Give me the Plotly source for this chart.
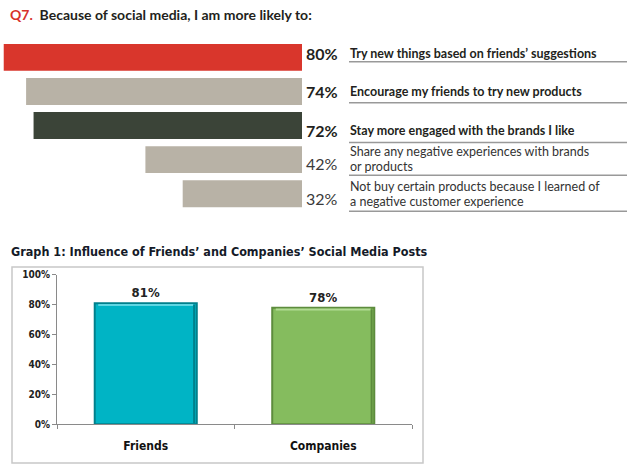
import plotly.graph_objects as go

# ---------------- data ----------------
q7_items = [
    "Try new things based on friends’ suggestions",
    "Encourage my friends to try new products",
    "Stay more engaged with the brands I like",
    "Share any negative experiences with brands<br>or products",
    "Not buy certain products because I learned of<br>a negative customer experience",
]
q7_values = [80, 74, 72, 42, 32]
q7_colors = ["#d9362c", "#b8b2a6", "#3b4438", "#b8b2a6", "#b8b2a6"]
q7_bold = [True, True, True, False, False]

g1_categories = ["Friends", "Companies"]
g1_values = [81, 78]
g1_colors = ["#00b4c5", "#85bc5e"]
g1_edges = ["#00808c", "#5d8c3d"]
g1_lights = ["#5fd6e2", "#b2db93"]
g1_ticks = [0, 20, 40, 60, 80, 100]

W, H = 641, 474
NARROW = "Lato, Liberation Sans Narrow, DejaVu Sans Condensed, sans-serif"
COND = "DejaVu Sans Condensed, DejaVu Sans, sans-serif"
BAR_W = 0.575
VS = 0.979  # vertical compensation


def py(px):
    return 1 - (px / VS - 4) / H


def px_(x):
    return x / W


q7_cats = [f"r{i}" for i in range(len(q7_values))]

fig = go.Figure()

# ---------- top horizontal bars ----------
fig.add_trace(go.Bar(
    x=q7_values, y=q7_cats, orientation="h",
    marker=dict(color=q7_colors, line=dict(width=0)),
    xaxis="x", yaxis="y", showlegend=False, hoverinfo="skip",
))

# ---------- bottom vertical bars ----------
fig.add_trace(go.Bar(
    x=g1_categories, y=g1_values, width=BAR_W,
    marker=dict(color=g1_colors, line=dict(color=g1_edges, width=2)),
    text=[f"<b>{v}%</b>" for v in g1_values], textposition="outside",
    textfont=dict(family=COND, size=13, color="#222222"),
    cliponaxis=False,
    xaxis="x2", yaxis="y2", showlegend=False, hoverinfo="skip",
))

fig.update_layout(
    width=W, height=H, margin=dict(l=0, r=0, t=0, b=0),
    paper_bgcolor="white", plot_bgcolor="rgba(0,0,0,0)",
    bargap=0.21,
    xaxis=dict(domain=[0, px_(302)], range=[81, 0], visible=False, fixedrange=True),
    yaxis=dict(domain=[py(209.6), py(38.4)], type="category",
               categoryorder="array", categoryarray=q7_cats,
               autorange="reversed", visible=False, anchor="x"),
    xaxis2=dict(domain=[px_(57), px_(412)], anchor="y2", type="category",
                showline=True, linecolor="#8a8a8a", linewidth=1,
                ticks="outside", ticklen=4, tickcolor="#8a8a8a",
                tickson="boundaries", ticklabelstandoff=10,
                tickfont=dict(family=COND, size=12, color="#111111", weight="bold"),
                showgrid=False),
    yaxis2=dict(domain=[py(424), py(274)], anchor="x2", range=[0, 100],
                tickvals=g1_ticks, ticktext=[f"{t}%" for t in g1_ticks],
                showline=True, linecolor="#8a8a8a", linewidth=1,
                ticks="outside", ticklen=4, tickcolor="#8a8a8a",
                showgrid=False, zeroline=False,
                tickfont=dict(family=COND, size=10, color="#222222", weight="bold")),
)

annotations = []
# top title
annotations.append(dict(
    x=px_(8), y=py(12), xref="paper", yref="paper", xanchor="left", yanchor="middle",
    text="<b><span style='color:#d7322b'>Q7.</span>  Because of social media, I am more likely to:</b>",
    showarrow=False, font=dict(family=NARROW, size=14, color="#231f20"),
))

# per-row vertical offsets (px, positive = up) for value labels and description lines
val_shift = [4, 0, -5, -3.5, -4.5]
desc_shift = [[4], [0], [-5], [7.8, -7.3], [7.0, -8.2]]
sep_lines = [60, 101, 141, 174, 210]

for i, (cat, v, item, b) in enumerate(zip(q7_cats, q7_values, q7_items, q7_bold)):
    vt = f"<b>{v}%</b>" if b else f"{v}%"
    annotations.append(dict(
        x=px_(304), y=cat, xref="paper", yref="y", xanchor="left", yanchor="middle",
        yshift=val_shift[i], text=vt, showarrow=False,
        font=dict(family=NARROW, size=16, color="#231f20" if b else "#3a3a3a"),
    ))
    for line, ys in zip(item.split("<br>"), desc_shift[i]):
        lt = f"<b>{line}</b>" if b else line
        annotations.append(dict(
            x=px_(348), y=cat, xref="paper", yref="y", xanchor="left", yanchor="middle",
            yshift=ys, text=lt, showarrow=False, align="left",
            font=dict(family=NARROW, size=12.5, color="#231f20" if b else "#333333"),
        ))

# bottom title
annotations.append(dict(
    x=px_(9), y=py(251), xref="paper", yref="paper", xanchor="left", yanchor="middle",
    text="<b>Graph 1: Influence of Friends’ and Companies’ Social Media Posts</b>",
    showarrow=False, font=dict(family=COND, size=12.5, color="#141a28"),
))

shapes = []
for yl in sep_lines:
    shapes.append(dict(type="line", xref="paper", yref="paper",
                       x0=px_(349), x1=px_(627), y0=py(yl), y1=py(yl),
                       line=dict(color="#999999", width=1.5)))
# frame of lower chart
shapes.append(dict(type="rect", xref="paper", yref="paper",
                   x0=px_(12), x1=px_(423), y0=py(463), y1=py(266),
                   line=dict(color="#c8c8c8", width=1.5)))
# bevel highlight / shade on lower bars (derived from the data)
for i, (v, lc, dc) in enumerate(zip(g1_values, g1_lights, g1_edges)):
    shapes.append(dict(type="line", xref="x2", yref="y2",
                       x0=i - BAR_W / 2 + 0.02, x1=i + BAR_W / 2 - 0.02,
                       y0=v - 1.2, y1=v - 1.2, line=dict(color=lc, width=2)))
    shapes.append(dict(type="line", xref="x2", yref="y2",
                       x0=i + BAR_W / 2 - 0.015, x1=i + BAR_W / 2 - 0.015,
                       y0=0.5, y1=v - 1, line=dict(color=dc, width=2)))

fig.update_layout(annotations=annotations, shapes=shapes)
fig.write_html("out.html", config={"displayModeBar": False},
               post_script="document.body.style.margin='0';document.body.style.padding='0';")
